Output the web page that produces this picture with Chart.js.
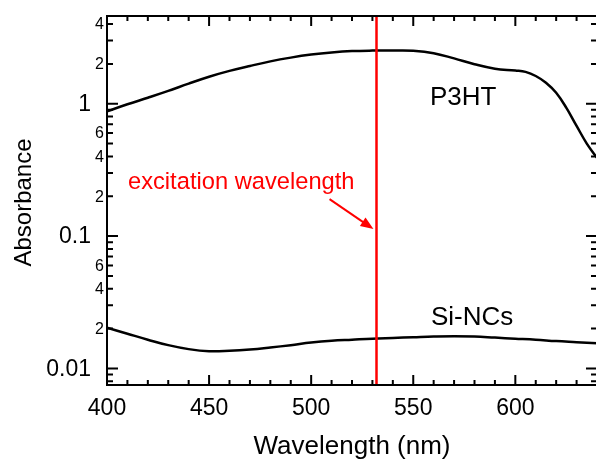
<!DOCTYPE html>
<html lang="en">
<head>
    <meta charset="UTF-8">
    <title>Absorbance</title>
    <style>
        body { margin: 0; overflow: hidden; background: #fff; }
        .box { width: 600px; height: 459px; }
    </style>
</head>
<body>
    <div class="box"><canvas id="mychart"></canvas></div>

    <script src="https://cdn.jsdelivr.net/npm/chart.js@4.4.1/dist/chart.umd.min.js"></script>
    <script>
        // data
        const wlP3HT = [400,410,420,430,440,450,460,470,480,490,500,510,520,530,540,550,560,570,580,590,600,605,610,615,620,625,630,635,640];
        const absP3HT = [0.875,0.99,1.11,1.25,1.42,1.60,1.77,1.93,2.09,2.23,2.35,2.44,2.50,2.52,2.52,2.51,2.41,2.20,1.99,1.84,1.78,1.74,1.62,1.44,1.21,0.93,0.68,0.50,0.39];

        const wlSiNC = [400,410,420,430,440,450,460,470,480,490,500,510,520,530,540,550,560,570,580,590,600,610,620,630,640];
        const absSiNC = [0.0203,0.0183,0.0165,0.0150,0.0140,0.0135,0.0136,0.0139,0.0144,0.0150,0.0157,0.0162,0.0165,0.0168,0.0170,0.0172,0.0174,0.0175,0.0174,0.0171,0.0168,0.0165,0.0161,0.0158,0.0155];

        const excitation = 532;
        const arrowX = [509, 530.5];
        const arrowY = [0.19, 0.113];

        // axes
        const xMin = 400, xMax = 640;
        const yMin = 0.0075, yMax = 4.6;
        const xMajor = [400,450,500,550,600];
        const xMinor = [410,420,430,440,460,470,480,490,510,520,530,540,560,570,580,590,610,620,630];
        const yMajor = [0.01, 0.1, 1];
        const yMinor = [0.008,0.009,0.02,0.03,0.04,0.05,0.06,0.07,0.08,0.09,0.2,0.3,0.4,0.5,0.6,0.7,0.8,0.9,2,3,4];
        const ySmallLabels = [0.02,0.04,0.06,0.2,0.4,0.6,2,4];

        const FONT = '"Liberation Sans", Arial, sans-serif';

        function toPoints(xs, ys) {
            return xs.map((x, i) => ({ x: x, y: ys[i] }));
        }

        // frame, inward ticks, tick labels and notes
        const decor = {
            id: 'decor',
            afterDatasetsDraw(chart) {
                const c = chart.ctx;
                const a = chart.chartArea;
                const sx = chart.scales.x, sy = chart.scales.y;
                c.save();
                c.strokeStyle = '#000';
                c.fillStyle = '#000';
                c.lineWidth = 2;
                c.strokeRect(a.left, a.top, a.right - a.left, a.bottom - a.top);

                function xt(v, len) {
                    const p = sx.getPixelForValue(v);
                    c.beginPath();
                    c.moveTo(p, a.bottom); c.lineTo(p, a.bottom - len);
                    c.moveTo(p, a.top); c.lineTo(p, a.top + len);
                    c.stroke();
                }
                function yt(v, len) {
                    const p = sy.getPixelForValue(v);
                    c.beginPath();
                    c.moveTo(a.left, p); c.lineTo(a.left + len, p);
                    c.moveTo(a.right, p); c.lineTo(a.right - len, p);
                    c.stroke();
                }
                xMajor.forEach(v => xt(v, 10));
                xMinor.forEach(v => xt(v, 5));
                yMajor.forEach(v => yt(v, 11));
                yMinor.forEach(v => yt(v, 6));

                // x labels
                c.font = '23px ' + FONT;
                c.textAlign = 'center';
                c.textBaseline = 'alphabetic';
                xMajor.forEach(v => c.fillText(String(v), sx.getPixelForValue(v), 415));

                // y labels
                c.textAlign = 'right';
                c.textBaseline = 'middle';
                yMajor.forEach(v => c.fillText(String(v), 91, sy.getPixelForValue(v) + 1));
                c.font = '16px ' + FONT;
                ySmallLabels.forEach(v => {
                    const d = Math.round(v / Math.pow(10, Math.floor(Math.log10(v) + 1e-9)));
                    c.fillText(String(d), 104, sy.getPixelForValue(v) + 1);
                });

                // axis titles
                c.font = '26px ' + FONT;
                c.textAlign = 'center';
                c.textBaseline = 'alphabetic';
                c.fillText('Wavelength (nm)', (a.left + a.right) / 2, 454);
                c.save();
                c.translate(31, (a.top + a.bottom) / 2 + 2);
                c.rotate(-Math.PI / 2);
                c.font = '24px ' + FONT;
                c.fillText('Absorbance', 0, 0);
                c.restore();

                // series names
                c.font = '26px ' + FONT;
                c.textAlign = 'left';
                c.fillText('P3HT', 430, 105);
                c.fillText('Si-NCs', 431, 325);

                // excitation note and arrow
                c.fillStyle = '#ff0000';
                c.strokeStyle = '#ff0000';
                c.font = '23.7px ' + FONT;
                c.fillText('excitation wavelength', 128, 189);
                const x0 = sx.getPixelForValue(arrowX[0]), y0 = sy.getPixelForValue(arrowY[0]);
                const x1 = sx.getPixelForValue(arrowX[1]), y1 = sy.getPixelForValue(arrowY[1]);
                const ang = Math.atan2(y1 - y0, x1 - x0);
                c.lineWidth = 2;
                c.beginPath();
                c.moveTo(x0, y0);
                c.lineTo(x1 - 8 * Math.cos(ang), y1 - 8 * Math.sin(ang));
                c.stroke();
                c.beginPath();
                c.moveTo(x1, y1);
                c.lineTo(x1 - 13 * Math.cos(ang) + 5 * Math.sin(ang), y1 - 13 * Math.sin(ang) - 5 * Math.cos(ang));
                c.lineTo(x1 - 13 * Math.cos(ang) - 5 * Math.sin(ang), y1 - 13 * Math.sin(ang) + 5 * Math.cos(ang));
                c.closePath();
                c.fill();
                c.restore();
            }
        };

        new Chart(document.getElementById('mychart'), {
            type: 'line',
            data: {
                datasets: [
                    {
                        label: 'excitation',
                        data: toPoints([excitation, excitation], [yMin, yMax]),
                        borderColor: '#ff0000',
                        borderWidth: 2.5,
                        pointRadius: 0
                    },
                    {
                        label: 'P3HT',
                        data: toPoints(wlP3HT, absP3HT),
                        borderColor: '#000',
                        borderWidth: 2.5,
                        pointRadius: 0,
                        tension: 0.4
                    },
                    {
                        label: 'Si-NCs',
                        data: toPoints(wlSiNC, absSiNC),
                        borderColor: '#000',
                        borderWidth: 2.5,
                        pointRadius: 0,
                        tension: 0.4
                    }
                ]
            },
            options: {
                responsive: true,
                maintainAspectRatio: false,
                animation: false,
                layout: { padding: { left: 107, top: 16, right: 3, bottom: 74 } },
                scales: {
                    x: { type: 'linear', min: xMin, max: xMax, display: false },
                    y: { type: 'logarithmic', min: yMin, max: yMax, display: false }
                },
                plugins: {
                    legend: { display: false },
                    tooltip: { enabled: false }
                }
            },
            plugins: [decor]
        });
    </script>
</body>
</html>
